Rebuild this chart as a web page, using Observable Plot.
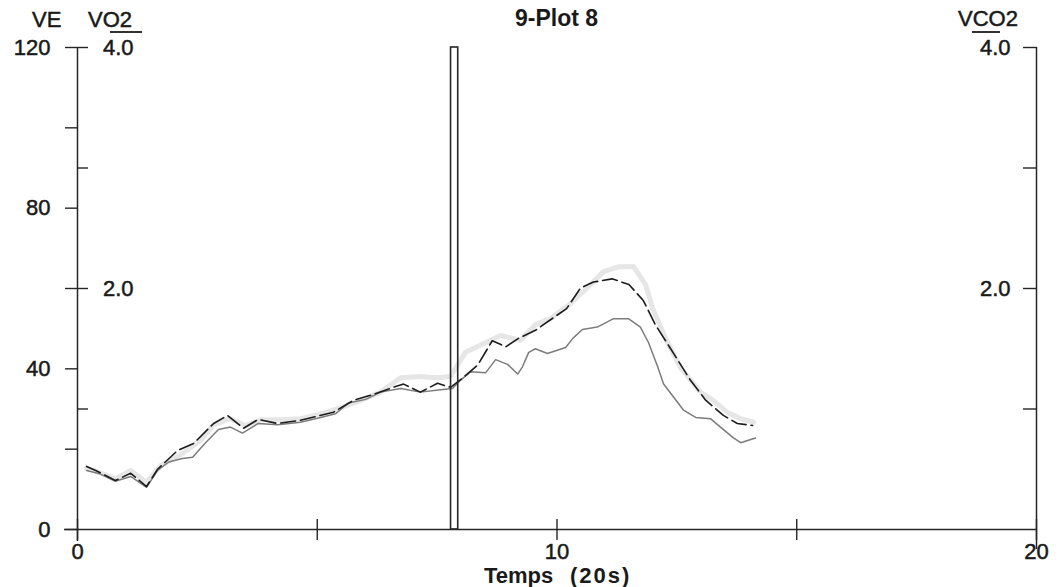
<!DOCTYPE html>
<html><head><meta charset="utf-8">
<script src="https://cdn.jsdelivr.net/npm/d3@7"></script>
<script src="https://cdn.jsdelivr.net/npm/@observablehq/plot@0.6"></script>
<style>
body{margin:0;background:#fff;}
#wrap{position:relative;width:1059px;height:587px;font-family:"Liberation Sans",Arial,sans-serif;color:#1a1a1a;overflow:hidden;}
#wrap svg{position:absolute;left:0;top:0;}
#wrap svg text{stroke:#1a1a1a;stroke-width:0.5px;}
.lbl{position:absolute;font-size:22px;line-height:22px;white-space:nowrap;-webkit-text-stroke:0.5px #1a1a1a;}
.b{font-weight:bold;-webkit-text-stroke:0;}
.seg{position:absolute;height:0;border-top:2px solid #333;}
</style></head><body><div id="wrap"></div>
<script>
// ---- data (time in 20 s units) ----
const veSeries = [[0.19,15.7],[0.38,14.7],[0.79,12.2],[1.11,14.0],[1.44,10.7],[1.67,15.0],[2.09,19.7],[2.42,21.4],[2.84,26.4],[3.13,28.4],[3.46,25.2],[3.77,27.4],[4.17,26.4],[4.65,27.2],[5.34,29.2],[5.76,32.2],[6.11,33.4],[6.59,35.4],[6.80,36.2],[7.15,34.2],[7.51,36.4],[7.78,35.4],[8.03,37.7],[8.35,41.0],[8.65,47.0],[8.93,45.5],[9.20,47.6],[9.55,49.6],[9.91,52.6],[10.20,55.0],[10.49,60.1],[10.76,61.6],[11.15,62.4],[11.50,61.0],[11.80,57.0],[12.05,51.0],[12.37,45.0],[12.78,37.2],[13.10,32.2],[13.47,28.4],[13.76,26.4],[14.08,25.9]];
const vo2Series = [[0.19,0.49],[0.48,0.46],[0.79,0.40],[1.11,0.44],[1.44,0.35],[1.67,0.49],[1.90,0.56],[2.19,0.59],[2.40,0.60],[2.67,0.72],[2.94,0.83],[3.19,0.85],[3.44,0.80],[3.77,0.88],[4.17,0.87],[4.65,0.89],[5.07,0.93],[5.38,0.96],[5.65,1.05],[6.01,1.08],[6.32,1.14],[6.74,1.17],[7.15,1.14],[7.57,1.16],[7.82,1.17],[7.99,1.24],[8.20,1.31],[8.51,1.30],[8.72,1.41],[8.97,1.37],[9.18,1.29],[9.28,1.35],[9.41,1.47],[9.55,1.50],[9.80,1.46],[10.18,1.51],[10.34,1.59],[10.53,1.66],[10.84,1.68],[11.18,1.75],[11.37,1.75],[11.49,1.75],[11.74,1.68],[11.91,1.55],[12.10,1.35],[12.22,1.21],[12.64,0.99],[12.89,0.93],[13.20,0.92],[13.41,0.85],[13.68,0.76],[13.83,0.72],[14.14,0.76]];
const vco2Series = [[0.19,0.51],[0.48,0.47],[0.79,0.42],[1.11,0.49],[1.44,0.39],[1.73,0.53],[2.15,0.62],[2.57,0.74],[2.84,0.87],[3.19,0.92],[3.50,0.86],[3.82,0.91],[4.23,0.91],[4.65,0.92],[5.07,0.96],[5.48,1.01],[5.90,1.07],[6.32,1.14],[6.74,1.26],[7.15,1.27],[7.51,1.26],[7.78,1.27],[8.09,1.47],[8.40,1.53],[8.82,1.61],[9.24,1.57],[9.55,1.70],[9.86,1.75],[10.24,1.86],[10.59,1.99],[10.97,2.14],[11.28,2.18],[11.60,2.18],[11.85,2.03],[11.99,1.84],[12.26,1.59],[12.58,1.34],[12.99,1.14],[13.26,1.07],[13.56,0.97],[13.83,0.92],[14.10,0.89]];
const markerIntervals = [[7.79, 7.94]];

const timeDomain = [0, 20];
const veDomain = [0, 120];
const gasToVE = 30; // 4.0 L/min <-> 120 L/min on the shared axis
const veTicks = [0,20,40,60,80,100,120];
const veLabels = [0,40,80,120];
const vo2Ticks = [1,2,3,4];
const vo2Labels = [2,4];
const vco2Ticks = [1,2,3,4];
const vco2Labels = [2,4];
const timeTicks = [0,5,10,15,20];
const timeLabels = [0,10,20];

const rows = s => s.map(([t, v]) => ({t, v}));
const ink = "#262626";
const font = "Liberation Sans, Arial, sans-serif";
const blank = () => "";

const chart = Plot.plot({
  width: 1059, height: 587,
  marginLeft: 77, marginRight: 23, marginTop: 47, marginBottom: 58,
  x: {domain: timeDomain, axis: null},
  y: {domain: veDomain, axis: null},
  style: {fontFamily: font, fontSize: "22px", color: "#1a1a1a", background: "transparent", overflow: "visible"},
  marks: [
    Plot.line(rows(vco2Series), {x: "t", y: d => d.v * gasToVE, stroke: "#e6e6e6", strokeWidth: 5}),
    Plot.line(rows(vo2Series), {x: "t", y: d => d.v * gasToVE, stroke: "#7c7c7c", strokeWidth: 1.5}),
    Plot.line(rows(veSeries), {x: "t", y: "v", stroke: "#1c1c1c", strokeWidth: 1.6, strokeDasharray: "15,5"}),
    Plot.rect(markerIntervals, {x1: d => d[0], x2: d => d[1], y1: veDomain[0], y2: veDomain[1], fill: "none", stroke: ink, strokeWidth: 1.6}),
    // axis lines
    Plot.ruleX([timeDomain[0]], {stroke: ink, strokeWidth: 1.5, insetBottom: -12}),
    Plot.ruleX([timeDomain[1]], {stroke: ink, strokeWidth: 1.5, insetBottom: -20}),
    Plot.ruleY([veDomain[0]], {stroke: ink, strokeWidth: 1.5, insetLeft: -13}),
    // left VE axis: outward ticks + labels
    Plot.axisY({ticks: veTicks, tickSize: 12, tickFormat: blank, label: null, stroke: ink, strokeWidth: 1.4}),
    Plot.axisY({ticks: veLabels, tickSize: 0, tickPadding: 27, label: null, fontSize: 22, fill: "#1a1a1a"}),
    // left VO2: inward ticks + labels
    Plot.axisY({ticks: vo2Ticks.map(v => v * gasToVE), tickSize: 11, dx: 11, tickFormat: blank, label: null, stroke: ink, strokeWidth: 1.4}),
    Plot.text(vo2Labels, {frameAnchor: "left", y: d => d * gasToVE, text: d => d.toFixed(1), textAnchor: "end", dx: 56, fontSize: 22, fill: "#1a1a1a"}),
    // right VCO2: inward ticks + labels
    Plot.axisY({anchor: "right", ticks: vco2Ticks.map(v => v * gasToVE), tickSize: 14, dx: -14, tickFormat: blank, label: null, stroke: ink, strokeWidth: 1.4}),
    Plot.text(vco2Labels, {frameAnchor: "right", y: d => d * gasToVE, text: d => d.toFixed(1), textAnchor: "end", dx: -26, fontSize: 22, fill: "#1a1a1a"}),
    // bottom time axis: crossing ticks + labels
    Plot.axisX({ticks: timeTicks, tickSize: 11, tickFormat: blank, label: null, stroke: ink, strokeWidth: 1.4}),
    Plot.axisX({ticks: timeTicks, tickSize: 10, dy: -10, tickFormat: blank, label: null, stroke: ink, strokeWidth: 1.4}),
    Plot.axisX({ticks: timeLabels, tickSize: 0, tickPadding: 14, label: null, fontSize: 22, fill: "#1a1a1a"})
  ]
});

const wrap = document.getElementById("wrap");
wrap.appendChild(chart);
const add = (txt, cls, left, top, extra = "") => {
  const d = document.createElement("div");
  d.className = cls; d.textContent = txt;
  d.style.cssText = `left:${left}px;top:${top}px;${extra}`;
  wrap.appendChild(d);
};
add("9-Plot 8", "lbl b", 515, 7, "font-size:23px;line-height:23px;");
add("VE", "lbl", 32, 9);
add("VO2", "lbl", 88, 9);
add("VCO2", "lbl", 958, 8);
add("", "seg", 110, 31, "width:32px;");
add("", "seg", 972, 31, "width:28px;");
add("Temps", "lbl b", 484, 565);
add("(20s)", "lbl b", 570, 565, "letter-spacing:2px;");
</script>
</body></html>
